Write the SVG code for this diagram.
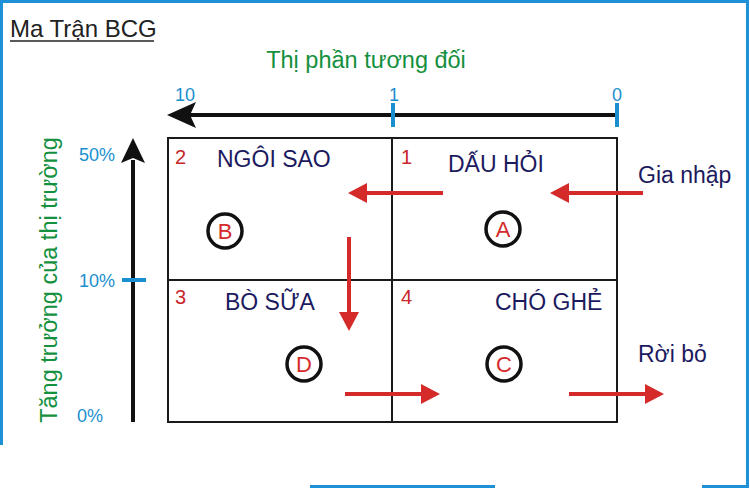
<svg xmlns="http://www.w3.org/2000/svg" width="750" height="488" viewBox="0 0 750 488">
<defs>
<style>
text{font-family:"Liberation Sans",Arial,sans-serif}
.frame{stroke:#1e90d8;stroke-width:3;fill:none}
.grid{stroke:#1a1a1a;stroke-width:2;fill:none}
.axis{stroke:#111;stroke-width:4;fill:none}
.tick{stroke:#1a8fd0;stroke-width:4}
.tl{fill:#1a8fd0;font-size:18px}
.green{fill:#14903e;font-size:23.5px}
.num{fill:#c8262a;font-size:20px}
.lab{fill:#1c1a5e;font-size:23px}
.circ{stroke:#111;stroke-width:3.5;fill:none}
.let{fill:#d42a2a;font-size:22px;text-anchor:middle}
.red{stroke:#d42a2a;stroke-width:4;fill:none}
.head{fill:#d42a2a}
</style>
</defs>
<rect width="750" height="488" fill="#fff"/>
<g id="frame">
<path class="frame" d="M1.5,445 V1.5 H747.5 V486.5 H702"/>
<line class="frame" x1="310" y1="486.5" x2="495" y2="486.5"/>
</g>
<g id="title">
<text x="10" y="37" font-size="24" fill="#222">Ma Trận BCG</text>
<line x1="10" y1="41" x2="154" y2="41" stroke="#222" stroke-width="1.5"/>
</g>
<g id="x-axis">
<text class="green" x="366" y="68" text-anchor="middle">Thị phần tương đối</text>
<line class="axis" x1="617" y1="115" x2="190" y2="115"/>
<polygon fill="#111" points="167,115 196,102 190,115 196,128"/>
<line class="tick" x1="393" y1="103" x2="393" y2="127"/>
<line class="tick" x1="617" y1="103" x2="617" y2="127"/>
<text class="tl" x="185" y="101" text-anchor="middle">10</text>
<text class="tl" x="394" y="101" text-anchor="middle">1</text>
<text class="tl" x="617" y="101" text-anchor="middle">0</text>
</g>
<g id="y-axis">
<text class="green" transform="translate(57,280) rotate(-90)" text-anchor="middle" font-size="24.5">Tăng trưởng của thị trường</text>
<line class="axis" x1="133" y1="422" x2="133" y2="160"/>
<polygon fill="#111" points="133,138 145,163 133,158 121,163"/>
<line class="tick" x1="122" y1="280" x2="146" y2="280"/>
<text class="tl" x="115" y="161" text-anchor="end">50%</text>
<text class="tl" x="115" y="287" text-anchor="end">10%</text>
<text class="tl" x="103" y="422" text-anchor="end">0%</text>
</g>
<g id="grid">
<rect class="grid" x="168" y="138" width="449" height="284"/>
<line class="grid" x1="392" y1="138" x2="392" y2="422"/>
<line class="grid" x1="168" y1="280" x2="617" y2="280"/>
</g>
<g id="q2-ngoi-sao">
<text class="num" x="175" y="164">2</text>
<text class="lab" x="217" y="167">NGÔI SAO</text>
<circle class="circ" cx="225" cy="231" r="17"/>
<text class="let" x="225" y="239">B</text>
</g>
<g id="q1-dau-hoi">
<text class="num" x="401" y="164">1</text>
<text class="lab" x="448" y="172">DẤU HỎI</text>
<circle class="circ" cx="503" cy="229" r="17"/>
<text class="let" x="503" y="237">A</text>
</g>
<g id="q3-bo-sua">
<text class="num" x="175" y="304">3</text>
<text class="lab" x="225" y="310">BÒ SỮA</text>
<circle class="circ" cx="304" cy="364" r="17"/>
<text class="let" x="304" y="372">D</text>
</g>
<g id="q4-cho-ghe">
<text class="num" x="401" y="304">4</text>
<text class="lab" x="495" y="310">CHÓ GHẺ</text>
<circle class="circ" cx="504" cy="364" r="17"/>
<text class="let" x="504" y="372">C</text>
</g>
<g id="gia-nhap">
<text class="lab" x="638" y="183">Gia nhập</text>
</g>
<g id="roi-bo">
<text class="lab" x="638" y="362">Rời bỏ</text>
</g>
<g id="connectors">
<line class="red" x1="643" y1="193" x2="566" y2="193"/>
<polygon class="head" points="550,193 569,183 569,203"/>
<line class="red" x1="443" y1="193" x2="365" y2="193"/>
<polygon class="head" points="348,193 367,183 367,203"/>
<line class="red" x1="349" y1="237" x2="349" y2="314"/>
<polygon class="head" points="349,331 339,312 359,312"/>
<line class="red" x1="345" y1="394" x2="424" y2="394"/>
<polygon class="head" points="440,394 421,384 421,404"/>
<line class="red" x1="569" y1="394" x2="647" y2="394"/>
<polygon class="head" points="664,394 645,384 645,404"/>
</g>
</svg>
